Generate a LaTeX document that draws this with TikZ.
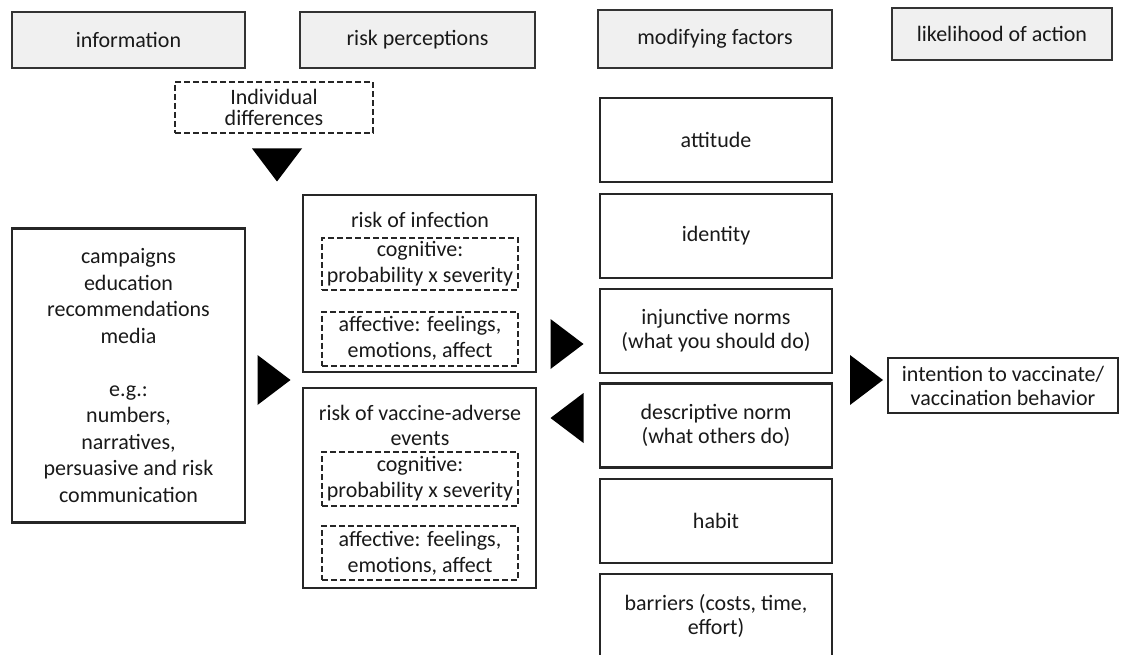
\documentclass[tikz,border=0pt]{standalone}
\usepackage{fontspec}
\setmainfont{Carlito}
\usepackage{xcolor}
\usepackage{tikz}
\usetikzlibrary{calc}

\tikzset{
  head/.style={draw=black!80, fill=black!6, line width=2.5pt, text=black!90, inner sep=0pt},
  box/.style={draw=black!85, line width=2.5pt, text=black!90, align=center, inner sep=0pt},
  dbox/.style={draw=black!85, line width=2pt, dash pattern=on 6pt off 3pt, text=black!90,
    align=center, inner sep=0pt, minimum width=196pt, font=\fontsize{22}{26}\selectfont},
  modbox/.style={box, minimum width=232pt, minimum height=84pt},
  lbl/.style={text=black!90, align=center, inner sep=0pt}
}
\newcommand{\triR}[1]{\fill[black] (#1) ++(-16.5,-25) -- ++(0,50) -- ++(33,-25) -- cycle;}
\newcommand{\triL}[1]{\fill[black] (#1) ++(16.5,-25) -- ++(0,50) -- ++(-33,-25) -- cycle;}
\newcommand{\triD}[1]{\fill[black] (#1) ++(-25,-16.5) -- ++(50,0) -- ++(-25,33) -- cycle;}

\begin{document}
\begin{tikzpicture}[x=1pt, y=-1pt, font=\fontsize{22}{24}\selectfont]
  \useasboundingbox (0,0) rectangle (1121,655);

  % column headers
  \node[head, minimum width=233pt, minimum height=56pt] (hinfo) at (128.5,40) {information};
  \node[head, minimum width=235pt, minimum height=56pt] (hrisk) at (417.5,40) {risk perceptions};
  \node[head, minimum width=234pt, minimum height=58pt] (hmod) at (715,39) {modifying factors};
  \node[head, minimum width=220pt, minimum height=52pt] (hlike) at (1002,34) {likelihood of action};

  % individual differences
  \node[dbox, minimum width=198pt, minimum height=51pt, font=\fontsize{22}{21}\selectfont] (indiv) at (274,107.5) {Individual\\differences};

  % information
  \node[box, minimum width=233pt, minimum height=294pt, font=\fontsize{22}{26.5}\selectfont] (info) at (128.5,375.5)
    {campaigns\\education\\recommendations\\media\\[26.5pt]e.g.:\\numbers,\\narratives,\\persuasive and risk\\communication};

  % risk of infection
  \node[box, minimum width=233pt, minimum height=177pt] (rinf) at (419.5,283.5) {};
  \node[lbl] (rinft) at (420,220) {risk of infection};
  \node[dbox, minimum height=52pt] (cog1) at (420,264) {cognitive:\\probability x severity};
  \node[dbox, minimum height=54pt] (aff1) at (420,338.5) {affective: feelings,\\emotions, affect};

  % risk of vaccine-adverse events
  \node[box, minimum width=233pt, minimum height=200pt] (rvac) at (419.5,488) {};
  \node[lbl, font=\fontsize{22}{25}\selectfont] (rvact) at (420,425.5) {risk of vaccine-adverse\\events};
  \node[dbox, minimum height=54pt] (cog2) at (420,479) {cognitive:\\probability x severity};
  \node[dbox, minimum height=54pt] (aff2) at (420,553) {affective: feelings,\\emotions, affect};

  % modifying factors
  \node[modbox] (att) at (716,140) {attitude};
  \node[modbox] (ident) at (716,236) {identity};
  \node[modbox] (inj) at (716,331) {injunctive norms\\(what you should do)};
  \node[modbox] (desc) at (716,425.5) {descriptive norm\\(what others do)};
  \node[modbox] (hab) at (716,521) {habit};
  \node[modbox] (barr) at (716,616) {barriers (costs, time,\\effort)};

  % likelihood of action
  \node[box, minimum width=230pt, minimum height=55pt] (intent) at (1003,385.5)
    {intention to vaccinate/\\vaccination behavior};

  % arrowheads
  \coordinate (a0) at (277,165);
  \coordinate (a1) at (274,380);
  \coordinate (a2) at (567,344);
  \coordinate (a3) at (567,418);
  \coordinate (a4) at (866.5,380);
  \triD{a0}
  \triR{a1}
  \triR{a2}
  \triL{a3}
  \triR{a4}
\end{tikzpicture}
\end{document}
